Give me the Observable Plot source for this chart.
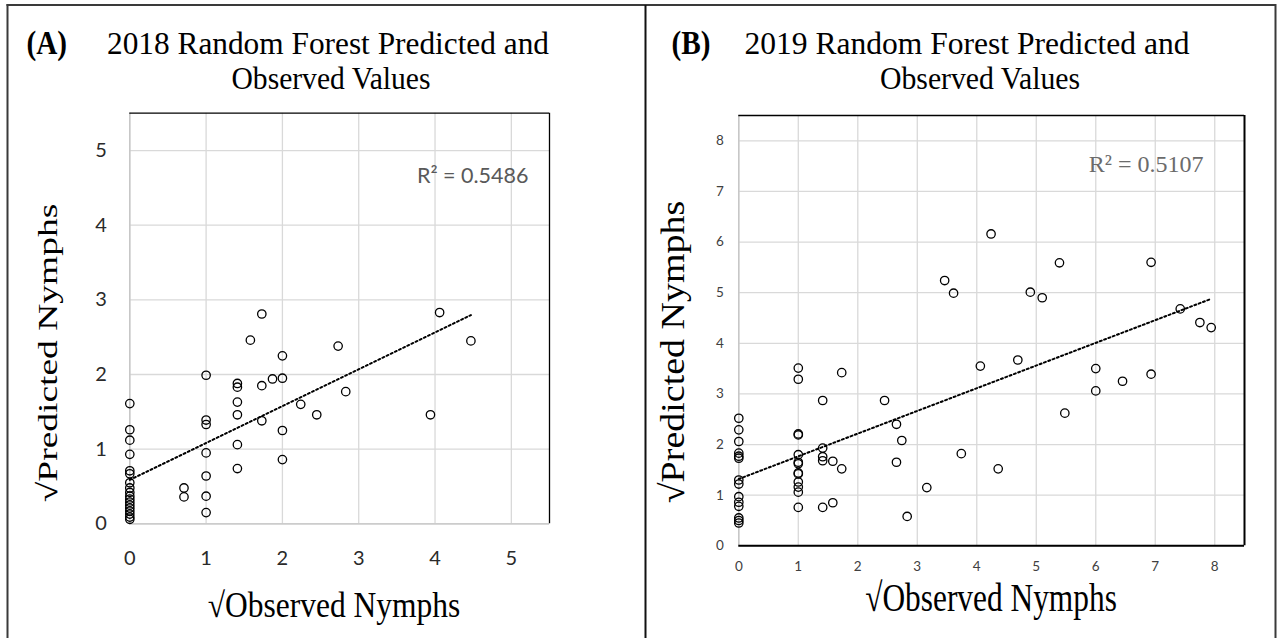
<!DOCTYPE html>
<html><head><meta charset="utf-8">
<script src="https://cdn.jsdelivr.net/npm/d3@7"></script>
<script src="https://cdn.jsdelivr.net/npm/@observablehq/plot@0.6"></script>
<style>
body{margin:0;background:#fff;}
#root{position:relative;width:1281px;height:638px;overflow:hidden;background:#fff;}
#root > svg{position:absolute;}
</style></head><body><div id="root"></div>
<script>
// ---------- Panel A (2018) ----------
const titleA = ["2018 Random Forest Predicted and", "Observed Values"];
const tagA = "(A)";
const r2A = "R\u00B2 = 0.5486";
const ticksA = [0, 1, 2, 3, 4, 5];
const xDomainA = [0, 5.5];
const yDomainA = [0, 5.5];
const obsA = [
  0,0,0,0,0,0,0,0,0,0,0,0,0,0,0,0,0,0,
  0.71,0.71,
  1,1,1,1,1,1,1,
  1.41,1.41,1.41,1.41,1.41,1.41,
  1.58,
  1.73,1.73,1.73,
  1.87,
  2,2,2,2,
  2.24,2.45,2.73,2.83,3.94,4.06,4.47
];
const predA = [
  1.61,1.26,1.12,0.93,0.71,0.67,0.55,0.48,0.42,0.37,0.33,0.29,0.25,0.21,0.17,0.13,0.09,0.06,
  0.48,0.36,
  1.99,1.39,1.33,0.95,0.64,0.37,0.15,
  1.88,1.83,1.63,1.46,1.06,0.74,
  2.46,
  2.81,1.85,1.38,
  1.94,
  2.25,1.95,1.25,0.86,
  1.60,1.46,2.38,1.77,1.46,2.83,2.45
];

// ---------- Panel B (2019) ----------
const titleB = ["2019 Random Forest Predicted and", "Observed Values"];
const tagB = "(B)";
const r2B = "R\u00B2 = 0.5107";
const ticksB = [0, 1, 2, 3, 4, 5, 6, 7, 8];
const xDomainB = [0, 8.5];
const yDomainB = [0, 8.5];
const obsB = [
  0,0,0,0,0,0,0,0,0,0,0,0,0,0,
  1,1,1,1,1,1,1,1,1,1,1,1,1,
  1.41,1.41,1.41,1.41,1.41,
  1.58,1.58,
  1.73,1.73,
  2.45,2.65,2.65,2.74,2.83,3.16,3.46,3.61,3.74,4.06,4.24,4.36,4.69,
  4.9,5.1,5.39,5.48,6,6,6.45,6.93,6.93,7.42,7.75,7.94
];
const predB = [
  2.52,2.29,2.06,1.83,1.77,1.73,1.30,1.22,0.97,0.86,0.78,0.55,0.50,0.45,
  3.51,3.29,2.21,2.19,1.80,1.65,1.62,1.44,1.42,1.26,1.16,1.06,0.76,
  2.87,1.93,1.76,1.68,0.76,
  1.67,0.85,
  3.42,1.52,
  2.87,2.40,1.65,2.08,0.58,1.15,5.24,4.99,1.82,3.55,6.16,1.52,3.67,
  5.01,4.90,5.59,2.62,3.50,3.06,3.25,5.60,3.39,4.68,4.41,4.31
];

const xLabel = "\u221AObserved Nymphs";
const yLabel = "\u221APredicted Nymphs";

const root = document.getElementById("root");

function panel(opts) {
  const data = opts.obs.map((x, i) => ({x, y: opts.pred[i]}));
  const svg = Plot.plot({
    width: opts.width, height: 638,
    marginLeft: opts.ml, marginRight: opts.mr, marginTop: opts.mt, marginBottom: opts.mb,
    x: {domain: opts.xDomain},
    y: {domain: opts.yDomain},
    style: {background: "transparent", color: opts.tickColor, fontFamily: "Lato, sans-serif", overflow: "visible"},
    marks: [
      Plot.gridX(opts.ticks, {stroke: "#d9d9d9", strokeOpacity: 1, strokeWidth: 1.3}),
      Plot.gridY(opts.ticks, {stroke: "#d9d9d9", strokeOpacity: 1, strokeWidth: 1.3}),
      Plot.ruleX([opts.xDomain[0]], {stroke: "#c4c4c4", strokeWidth: 1.3}),
      Plot.ruleY([opts.yDomain[0]], {stroke: opts.bottomColor, strokeWidth: opts.bottomWidth}),
      Plot.ruleX([opts.xDomain[1]], {stroke: "#000", strokeWidth: opts.rightWidth}),
      Plot.ruleY([opts.yDomain[1]], {stroke: "#000", strokeWidth: 1.3}),
      Plot.axisX(opts.ticks, {tickSize: 0, tickPadding: opts.xPad, fontSize: opts.tickFont, label: null, tickFormat: d => String(d)}),
      Plot.axisY(opts.ticks, {tickSize: 0, tickPadding: opts.yPad, fontSize: opts.tickFont, label: null, tickFormat: d => String(d)}),
      Plot.linearRegressionY(data, {x: "x", y: "y", stroke: "#000", strokeWidth: 2, strokeDasharray: "2 2.6", ci: 0}),
      Plot.dot(data, {x: "x", y: "y", r: 4.2, stroke: "#000", strokeWidth: 1.3, fill: "none"}),
      Plot.text([opts.r2], {text: d => d, frameAnchor: "top-right", textAnchor: "end", lineAnchor: "bottom",
        dx: opts.r2dx, dy: opts.r2dy, fontSize: opts.r2Font, fill: opts.r2Color, fontFamily: opts.r2Family})
    ]
  });
  svg.style.left = opts.left + "px";
  svg.style.top = "0px";
  root.appendChild(svg);
}

panel({obs: obsA, pred: predA, ticks: ticksA, xDomain: xDomainA, yDomain: yDomainA,
  left: 0, width: 645, ml: 129.3, mr: 96, mt: 112.7, mb: 114.7,
  tickColor: "#2a2a2a", tickFont: 20, xPad: 27, yPad: 23,
  bottomColor: "#c4c4c4", bottomWidth: 1.3, rightWidth: 1.3,
  r2: r2A, r2dx: -21, r2dy: 70, r2Font: 21.5, r2Color: "#595959", r2Family: "Lato, sans-serif"});

panel({obs: obsB, pred: predB, ticks: ticksB, xDomain: xDomainB, yDomain: yDomainB,
  left: 645, width: 636, ml: 93.3, mr: 37, mt: 115, mb: 92.7,
  tickColor: "#404040", tickFont: 13.5, xPad: 16, yPad: 15,
  bottomColor: "#000", bottomWidth: 2, rightWidth: 2,
  r2: r2B, r2dx: -41, r2dy: 56.7, r2Font: 24, r2Color: "#6b6b6b", r2Family: "'Liberation Serif', serif"});

// ---------- overlay: frame, titles, axis titles ----------
const NS = "http://www.w3.org/2000/svg";
const ov = document.createElementNS(NS, "svg");
ov.setAttribute("width", 1281); ov.setAttribute("height", 638);
ov.style.left = "0px"; ov.style.top = "0px";
root.appendChild(ov);

const SERIF = "'Liberation Serif', 'Times New Roman', serif";

function line(x1, y1, x2, y2, color, w) {
  const l = document.createElementNS(NS, "line");
  l.setAttribute("x1", x1); l.setAttribute("y1", y1); l.setAttribute("x2", x2); l.setAttribute("y2", y2);
  l.setAttribute("stroke", color); l.setAttribute("stroke-width", w);
  ov.appendChild(l);
}
function txt(s, x, y, o) {
  const t = document.createElementNS(NS, "text");
  t.textContent = s;
  t.setAttribute("font-family", o.family || SERIF);
  t.setAttribute("font-size", o.size);
  if (o.bold) t.setAttribute("font-weight", "bold");
  t.setAttribute("text-anchor", o.anchor || "middle");
  t.setAttribute("fill", o.color || "#000");
  const rot = o.rotate ? ` rotate(${o.rotate})` : "";
  t.setAttribute("transform", `translate(${x},${y})${rot} scale(${o.sx || 1},${o.sy || 1})`);
  ov.appendChild(t);
}
// title line fitted to its measured width
function fitted(s, center, baseline, width, size) {
  const t = document.createElementNS(NS, "text");
  t.textContent = s;
  t.setAttribute("font-family", SERIF);
  t.setAttribute("font-size", size);
  t.setAttribute("fill", "#000");
  t.setAttribute("x", center - width / 2);
  t.setAttribute("y", baseline);
  t.setAttribute("textLength", width);
  t.setAttribute("lengthAdjust", "spacingAndGlyphs");
  ov.appendChild(t);
}

// outer frame and divider
line(7.5, 4, 7.5, 638, "#3a3a3a", 2);
line(6.5, 5, 1276, 5, "#3a3a3a", 2);
line(1275.5, 4, 1275.5, 638, "#3a3a3a", 2);
line(645.5, 5, 645.5, 638, "#111", 2);

// titles
txt(tagA, 26.5, 54, {size: 34, bold: true, anchor: "start", sx: 0.86});
fitted(titleA[0], 328, 54, 442, 30.5);
fitted(titleA[1], 331, 88.5, 199, 30.5);
txt(tagB, 671.6, 54, {size: 34, bold: true, anchor: "start", sx: 0.86});
fitted(titleB[0], 967, 54, 445, 30.5);
fitted(titleB[1], 980, 88.5, 200, 30.5);

// axis titles
txt(xLabel, 334, 617, {size: 35, sx: 0.9});
txt(yLabel, 57, 353, {size: 37.5, rotate: -90, sy: 0.75});
txt(xLabel, 991, 611, {size: 40, sx: 0.785});
txt(yLabel, 684, 352, {size: 38, rotate: -90, sy: 0.9});
</script></body></html>
